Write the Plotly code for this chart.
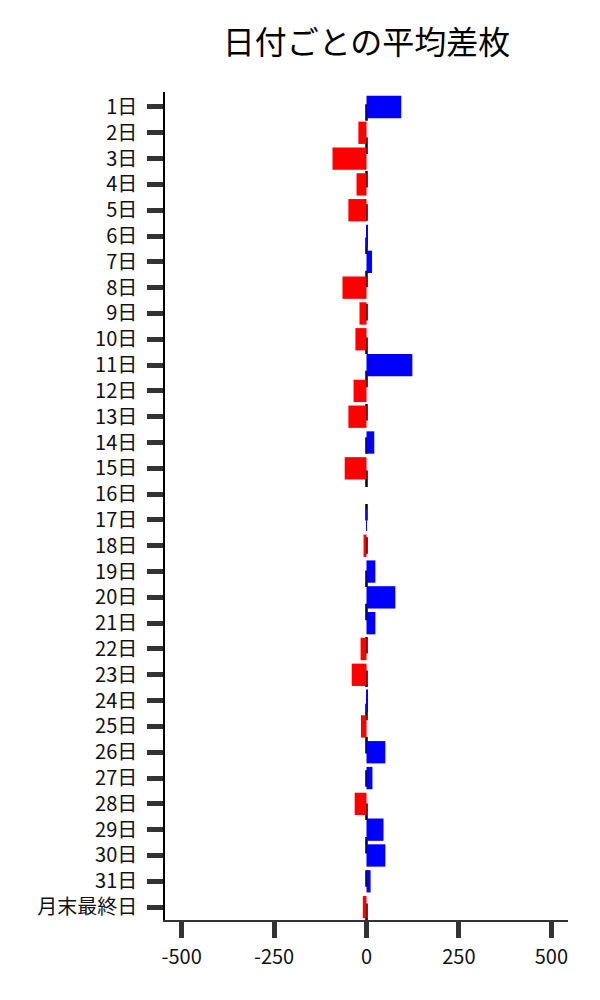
import plotly.graph_objects as go

days = [f"{i}日" for i in range(1, 32)] + ["月末最終日"]
values = [94, -22, -92, -27, -49, 2, 15, -65, -19, -30,
          124, -35, -49, 21, -59, 0, 1, -8, 24, 78,
          24, -16, -40, 3, -15, 51, 16, -32, 46, 51,
          11, -10]
x_ticks = [-500, -250, 0, 250, 500]
title_text = "日付ごとの平均差枚"

colors = ["#0000ff" if v >= 0 else "#ff0000" for v in values]

fig = go.Figure()
fig.add_trace(go.Bar(
    y=days, x=values, orientation="h",
    marker=dict(color=colors, line=dict(width=0)),
    width=0.865,
    showlegend=False,
))

fig.add_shape(type="line", xref="x", yref="paper", x0=0, x1=0, y0=0, y1=1,
              line=dict(color="black", width=2.5, dash="16.5px,16.8px"),
              layer="below")

font_family = "Noto Sans CJK JP"
fig.update_layout(
    width=592, height=992,
    margin=dict(l=157, r=32, t=84, b=80),
    paper_bgcolor="white", plot_bgcolor="white",
    font=dict(family=font_family, size=20, color="#111"),
    title=dict(text=title_text, x=0.5, xref="paper", xanchor="center",
               y=0.9647, yref="container", yanchor="middle",
               font=dict(family=font_family, size=32, color="black")),
    xaxis=dict(range=[-545, 545], tickvals=x_ticks,
               ticktext=[str(v) for v in x_ticks],
               showgrid=False, zeroline=False,
               showline=True, linecolor="#333", linewidth=1.5,
               ticks="outside", ticklen=16, tickwidth=5, tickcolor="#333",
               ticklabelstandoff=2,
               tickfont=dict(size=20, color="#111")),
    yaxis=dict(categoryorder="array", categoryarray=days,
               range=[31.5, -0.58],
               showgrid=False, zeroline=False,
               showline=True, linecolor="black", linewidth=1.5,
               ticks="outside", ticklen=16, tickwidth=5, tickcolor="#333",
               ticklabelstandoff=6,
               tickfont=dict(size=20, color="#111")),
)

fig.write_html("out.html")
